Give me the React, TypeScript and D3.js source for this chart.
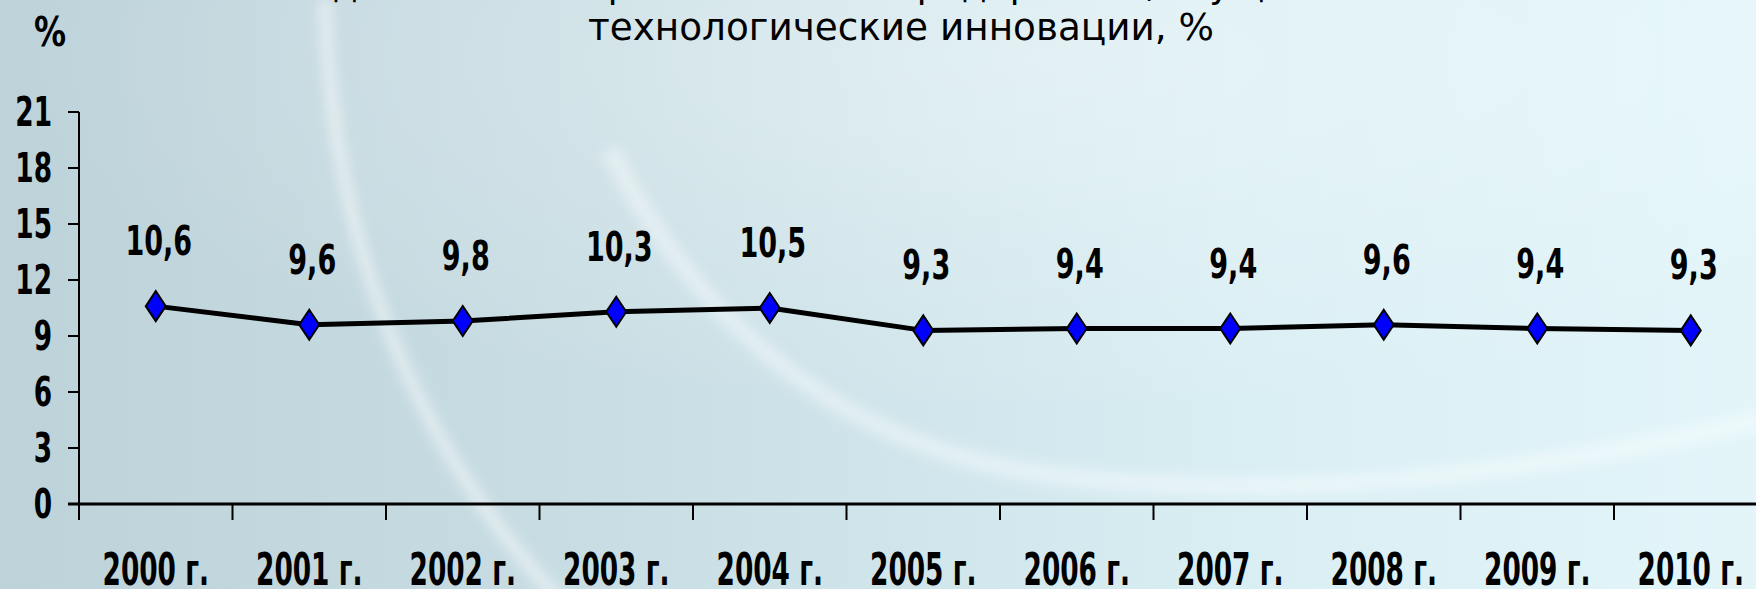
import React, { useEffect } from 'react';
import * as d3 from 'd3';

const years = ['2000 г.', '2001 г.', '2002 г.', '2003 г.', '2004 г.', '2005 г.', '2006 г.', '2007 г.', '2008 г.', '2009 г.', '2010 г.'];
const values = [10.6, 9.6, 9.8, 10.3, 10.5, 9.3, 9.4, 9.4, 9.6, 9.4, 9.3];
const yTicks = [0, 3, 6, 9, 12, 15, 18, 21];
const titleTop = 'Удельный вес промышленных предприятий, осуществлявших';
const titleBottom = 'технологические инновации, %';

const W = 1756;
const H = 589;
const FONT = '"DejaVu Sans", Tahoma, sans-serif';

const App = () => {
  useEffect(() => {
    document.body.style.margin = '0';
  }, []);

  const margin = { left: 79, top: 112, bottom: 504 };
  const x = d3.scaleBand().domain(years).range([margin.left, margin.left + 153.5 * years.length]).padding(0);
  const y = d3.scaleLinear().domain([0, 21]).range([margin.bottom, margin.top]);
  const cx = (d: string) => (x(d) as number) + x.bandwidth() / 2;

  const line = d3.line<number>()
    .x((_, i) => cx(years[i]))
    .y(v => y(v));

  const diamond = (px: number, py: number) =>
    `M${px},${py - 15}L${px + 10},${py}L${px},${py + 15}L${px - 10},${py}Z`;

  const fmt = (v: number) => v.toFixed(1).replace('.', ',');

  return (
    <svg width={W} height={H} style={{ display: 'block' }} fontFamily={FONT}>
      <defs>
        <linearGradient id="bg" x1="0" y1="0" x2="1" y2="0">
          <stop offset="0" stopColor="#bdd2d9" />
          <stop offset="0.35" stopColor="#c9dee4" />
          <stop offset="0.7" stopColor="#d9eef3" />
          <stop offset="1" stopColor="#e3f5f9" />
        </linearGradient>
        <radialGradient id="glow" cx="0.6" cy="0.1" r="0.6">
          <stop offset="0" stopColor="#ffffff" stopOpacity="0.35" />
          <stop offset="1" stopColor="#ffffff" stopOpacity="0" />
        </radialGradient>
        <filter id="blur" x="-20%" y="-20%" width="140%" height="140%">
          <feGaussianBlur stdDeviation="6" />
        </filter>
      </defs>
      <rect width={W} height={H} fill="url(#bg)" />
      <rect width={W} height={H} fill="url(#glow)" />
      <g fill="none" stroke="#ffffff" filter="url(#blur)">
        <path d="M325,0 C330,220 400,430 560,600" strokeWidth={14} strokeOpacity={0.45} />
        <path d="M610,150 C700,330 850,450 1050,475 C1300,505 1550,470 1760,420" strokeWidth={18} strokeOpacity={0.4} />
      </g>

      <text x={901} y={-3} textAnchor="middle" fontSize={38} textLength={1180} lengthAdjust="spacingAndGlyphs" fill="#000">{titleTop}</text>
      <text x={901} y={40} textAnchor="middle" fontSize={38} textLength={626} lengthAdjust="spacingAndGlyphs" fill="#000">{titleBottom}</text>
      <text transform="translate(50,46) scale(0.8,1)" textAnchor="middle" fontSize={40} fontWeight="bold" fill="#000">%</text>

      {/* y axis */}
      <line x1={margin.left} x2={margin.left} y1={y(21)} y2={520} stroke="#000" strokeWidth={2} />
      {yTicks.map(t => (
        <g key={t}>
          <line x1={68} x2={margin.left} y1={y(t)} y2={y(t)} stroke="#000" strokeWidth={2} />
          <text transform={`translate(52,${y(t) + 14}) scale(0.66,1)`} textAnchor="end" fontSize={40} fontWeight="bold" fill="#000">{t}</text>
        </g>
      ))}

      {/* x axis */}
      <line x1={68} x2={W} y1={margin.bottom} y2={margin.bottom} stroke="#000" strokeWidth={3} />
      {years.map(d => (
        <g key={d}>
          <line x1={x(d)} x2={x(d)} y1={margin.bottom} y2={520} stroke="#000" strokeWidth={2} />
          <text transform={`translate(${cx(d)},585) scale(0.6,1)`} textAnchor="middle" fontSize={44} fontWeight="bold" fill="#000">{d}</text>
        </g>
      ))}

      <path d={line(values) || ''} fill="none" stroke="#000" strokeWidth={5} strokeLinejoin="round" />
      {values.map((v, i) => (
        <g key={i}>
          <path d={diamond(cx(years[i]), y(v))} fill="#0000ff" stroke="#000" strokeWidth={2} />
          <text transform={`translate(${cx(years[i]) + 3},${y(v) - 51}) scale(0.66,1)`} textAnchor="middle" fontSize={41} fontWeight="bold" fill="#000">{fmt(v)}</text>
        </g>
      ))}
    </svg>
  );
};

export default App;
